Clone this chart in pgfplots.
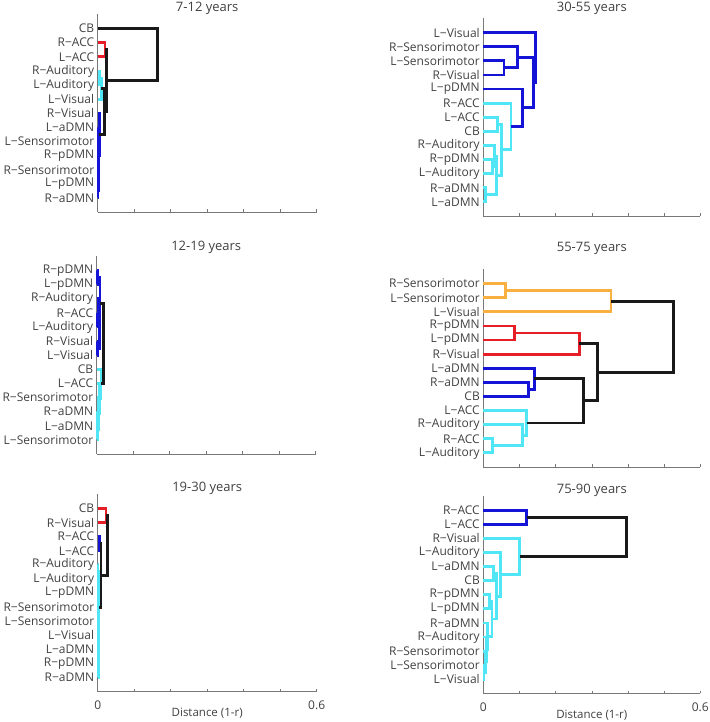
\documentclass[border=0pt]{standalone}
\usepackage{fontspec}
\setmainfont{Open Sans}
\usepackage{pgfplots}
\pgfplotsset{compat=1.18}
\definecolor{dcyan}{RGB}{80,230,245}
\definecolor{dblue}{RGB}{20,20,215}
\definecolor{dred}{RGB}{230,30,40}
\definecolor{dorange}{RGB}{250,175,65}
\definecolor{dblack}{RGB}{25,25,25}
\definecolor{axgray}{RGB}{120,120,120}
\definecolor{txtgray}{RGB}{65,65,65}
\pgfplotsset{
  dendro/.style={
    scale only axis, height=197.5pt, anchor=south west, clip=false,
    xmin=0, xmax=0.6, ymin=0, ymax=14,
    axis x line*=bottom, axis y line*=left,
    axis line style={axgray, line width=0.8pt, -},
    xtick={0,0.1,0.2,0.3,0.4,0.5,0.6}, xticklabels={},
    tick align=inside, major tick length=2.5pt,
    xtick style={axgray, line width=0.6pt},
    ytick style={draw=none},
    ytick={1,2,3,4,5,6,7,8,9,10,11,12,13},
    tick label style={font=\fontsize{12}{14}\selectfont, text=txtgray},
    title style={font=\fontsize{13}{15}\selectfont, text=txtgray, anchor=base, at={(axis description cs:0.5,1)}},
    every axis plot/.append style={line width=2.8pt, no markers, line join=miter},
  },
  bottomrow/.style={
    xticklabels={0,,,,,,0.6},
    xticklabel style={anchor=base, yshift=-18pt},
    xlabel={Distance (1-r)},
    xlabel style={at={(axis description cs:0.5,0)}, anchor=base, yshift=-24.8pt, font=\fontsize{11.5}{14}\selectfont, text=txtgray},
  }
}
\begin{document}
\begin{tikzpicture}
\useasboundingbox (0,0) rectangle (709pt,722pt);
% ---------------- 7-12 years
\begin{axis}[dendro, width=219pt, at={(97.7pt,510pt)}, title={7-12 years}, title style={yshift=-3pt},
  yticklabels={R−aDMN,L−pDMN,R−Sensorimotor,R−pDMN,L−Sensorimotor,L−aDMN,R−Visual,L−Visual,L−Auditory,R−Auditory,L−ACC,R−ACC,CB}]
\addplot[dblue] coordinates {(0,2) (0.001,2) (0.001,1) (0,1)};
\addplot[dblue] coordinates {(0,4) (0.001,4) (0.001,3) (0,3)};
\addplot[dblue] coordinates {(0.001,3.5) (0.002,3.5) (0.002,1.5) (0.001,1.5)};
\addplot[dblue] coordinates {(0,6) (0.002,6) (0.002,5) (0,5)};
\addplot[dblue] coordinates {(0.002,5.5) (0.003,5.5) (0.003,2.5) (0.002,2.5)};
\addplot[dblue] coordinates {(0,7) (0.004,7) (0.004,4) (0.003,4)};
\addplot[dcyan] coordinates {(0,10) (0.005,10) (0.005,9) (0,9)};
\addplot[dcyan] coordinates {(0.005,9.5) (0.010,9.5) (0.010,8) (0,8)};
\addplot[dred] coordinates {(0,12) (0.020,12) (0.020,11) (0,11)};
\addplot[dblack] coordinates {(0.010,8.75) (0.018,8.75) (0.018,5.5) (0.004,5.5)};
\addplot[dblack] coordinates {(0.020,11.5) (0.0246,11.5) (0.0246,7.125) (0.018,7.125)};
\addplot[dblack] coordinates {(0,13) (0.164,13) (0.164,9.31) (0.0246,9.31)};
\end{axis}
% ---------------- 30-55 years
\begin{axis}[dendro, width=217pt, at={(483.3pt,506pt)}, title={30-55 years}, title style={yshift=1pt},
  yticklabels={L−aDMN,R−aDMN,L−Auditory,R−pDMN,R−Auditory,CB,L−ACC,R−ACC,L−pDMN,R−Visual,L−Sensorimotor,R−Sensorimotor,L−Visual}]
\addplot[dcyan] coordinates {(0,2) (0.005,2) (0.005,1) (0,1)};
\addplot[dcyan] coordinates {(0,4) (0.025,4) (0.025,3) (0,3)};
\addplot[dcyan] coordinates {(0,5) (0.030,5) (0.030,3.5) (0.025,3.5)};
\addplot[dcyan] coordinates {(0.030,4.25) (0.037,4.25) (0.037,1.5) (0.005,1.5)};
\addplot[dcyan] coordinates {(0,7) (0.039,7) (0.039,6) (0,6)};
\addplot[dcyan] coordinates {(0.039,6.5) (0.051,6.5) (0.051,2.875) (0.037,2.875)};
\addplot[dcyan] coordinates {(0,8) (0.0765,8) (0.0765,4.69) (0.051,4.69)};
\addplot[dblue] coordinates {(0,9) (0.108,9) (0.108,6.34) (0.0765,6.34)};
\addplot[dblue] coordinates {(0,11) (0.057,11) (0.057,10) (0,10)};
\addplot[dblue] coordinates {(0,12) (0.095,12) (0.095,10.5) (0.057,10.5)};
\addplot[dblue] coordinates {(0.095,11.25) (0.138,11.25) (0.138,7.67) (0.108,7.67)};
\addplot[dblue] coordinates {(0,13) (0.145,13) (0.145,9.46) (0.138,9.46)};
\end{axis}
% ---------------- 12-19 years
\begin{axis}[dendro, width=219pt, at={(96.7pt,268pt)}, title={12-19 years}, title style={yshift=-0.3pt},
  yticklabels={L−Sensorimotor,L−aDMN,R−aDMN,R−Sensorimotor,L−ACC,CB,L−Visual,R−Visual,L−Auditory,R−ACC,R−Auditory,L−pDMN,R−pDMN}]
\addplot[dblue] coordinates {(0,13) (0.003,13) (0.003,12) (0,12)};
\addplot[dblue] coordinates {(0,10) (0.003,10) (0.003,9) (0,9)};
\addplot[dblue] coordinates {(0,11) (0.005,11) (0.005,9.5) (0.003,9.5)};
\addplot[dblue] coordinates {(0,8) (0.003,8) (0.003,7) (0,7)};
\addplot[dblue] coordinates {(0.005,10.25) (0.007,10.25) (0.007,7.5) (0.003,7.5)};
\addplot[dblue] coordinates {(0.003,12.5) (0.009,12.5) (0.009,8.875) (0.007,8.875)};
\addplot[dcyan] coordinates {(0,3) (0.002,3) (0.002,2) (0,2)};
\addplot[dcyan] coordinates {(0.002,2.5) (0.003,2.5) (0.003,1) (0,1)};
\addplot[dcyan] coordinates {(0,4) (0.004,4) (0.004,1.75) (0.003,1.75)};
\addplot[dcyan] coordinates {(0,5) (0.007,5) (0.007,2.875) (0.004,2.875)};
\addplot[dcyan] coordinates {(0,6) (0.012,6) (0.012,3.94) (0.007,3.94)};
\addplot[dblack] coordinates {(0.009,10.69) (0.018,10.69) (0.018,4.97) (0.012,4.97)};
\end{axis}
% ---------------- 55-75 years
\begin{axis}[dendro, width=217pt, at={(483.3pt,255pt)}, title={55-75 years}, title style={yshift=12.2pt},
  yticklabels={L−Auditory,R−ACC,R−Auditory,L−ACC,CB,R−aDMN,L−aDMN,R−Visual,L−pDMN,R−pDMN,L−Visual,L−Sensorimotor,R−Sensorimotor}]
\addplot[dorange] coordinates {(0,13) (0.0617,13) (0.0617,12) (0,12)};
\addplot[dorange] coordinates {(0.0617,12.5) (0.353,12.5) (0.353,11) (0,11)};
\addplot[dred] coordinates {(0,10) (0.0856,10) (0.0856,9) (0,9)};
\addplot[dred] coordinates {(0.0856,9.5) (0.265,9.5) (0.265,8) (0,8)};
\addplot[dblue] coordinates {(0,6) (0.124,6) (0.124,5) (0,5)};
\addplot[dblue] coordinates {(0,7) (0.141,7) (0.141,5.5) (0.124,5.5)};
\addplot[dcyan] coordinates {(0,2) (0.026,2) (0.026,1) (0,1)};
\addplot[dcyan] coordinates {(0,3) (0.108,3) (0.108,1.5) (0.026,1.5)};
\addplot[dcyan] coordinates {(0,4) (0.120,4) (0.120,2.25) (0.108,2.25)};
\addplot[dblack] coordinates {(0.141,6.25) (0.278,6.25) (0.278,3.125) (0.120,3.125)};
\addplot[dblack] coordinates {(0.265,8.75) (0.315,8.75) (0.315,4.69) (0.278,4.69)};
\addplot[dblack] coordinates {(0.353,11.75) (0.525,11.75) (0.525,6.72) (0.315,6.72)};
\end{axis}
% ---------------- 19-30 years
\begin{axis}[dendro, bottomrow, width=219pt, at={(97.7pt,30.2pt)}, title={19-30 years}, title style={yshift=-3.4pt},
  yticklabels={R−aDMN,R−pDMN,L−aDMN,L−Visual,L−Sensorimotor,R−Sensorimotor,L−pDMN,L−Auditory,R−Auditory,L−ACC,R−ACC,R−Visual,CB}]
\addplot[dcyan] coordinates {(0,3) (0.001,3) (0.001,2) (0,2)};
\addplot[dcyan] coordinates {(0.001,2.5) (0.0015,2.5) (0.0015,1) (0,1)};
\addplot[dcyan] coordinates {(0,4) (0.002,4) (0.002,1.75) (0.0015,1.75)};
\addplot[dcyan] coordinates {(0,6) (0.001,6) (0.001,5) (0,5)};
\addplot[dcyan] coordinates {(0.001,5.5) (0.0025,5.5) (0.0025,2.875) (0.002,2.875)};
\addplot[dcyan] coordinates {(0,9) (0.001,9) (0.001,8) (0,8)};
\addplot[dcyan] coordinates {(0.001,8.5) (0.002,8.5) (0.002,7) (0,7)};
\addplot[dcyan] coordinates {(0.002,7.75) (0.003,7.75) (0.003,4.19) (0.0025,4.19)};
\addplot[dblue] coordinates {(0,11) (0.005,11) (0.005,10) (0,10)};
\addplot[dred] coordinates {(0,13) (0.023,13) (0.023,12) (0,12)};
\addplot[dblack] coordinates {(0.005,10.5) (0.009,10.5) (0.009,5.97) (0.003,5.97)};
\addplot[dblack] coordinates {(0.023,12.5) (0.027,12.5) (0.027,8.235) (0.009,8.235)};
\end{axis}
% ---------------- 75-90 years
\begin{axis}[dendro, bottomrow, width=217pt, at={(483.3pt,28.5pt)}, title={75-90 years}, title style={yshift=-3.6pt},
  yticklabels={L−Visual,L−Sensorimotor,R−Sensorimotor,R−Auditory,R−aDMN,L−pDMN,R−pDMN,CB,L−aDMN,L−Auditory,R−Visual,L−ACC,R−ACC}]
\addplot[dcyan] coordinates {(0,2) (0.002,2) (0.002,1) (0,1)};
\addplot[dcyan] coordinates {(0,3) (0.005,3) (0.005,1.5) (0.002,1.5)};
\addplot[dcyan] coordinates {(0,4) (0.008,4) (0.008,2.25) (0.005,2.25)};
\addplot[dcyan] coordinates {(0,5) (0.011,5) (0.011,3.125) (0.008,3.125)};
\addplot[dcyan] coordinates {(0,7) (0.018,7) (0.018,6) (0,6)};
\addplot[dcyan] coordinates {(0.018,6.5) (0.024,6.5) (0.024,4.06) (0.011,4.06)};
\addplot[dcyan] coordinates {(0,9) (0.028,9) (0.028,8) (0,8)};
\addplot[dcyan] coordinates {(0.028,8.5) (0.037,8.5) (0.037,5.28) (0.024,5.28)};
\addplot[dcyan] coordinates {(0,10) (0.048,10) (0.048,6.89) (0.037,6.89)};
\addplot[dcyan] coordinates {(0,11) (0.101,11) (0.101,8.45) (0.048,8.45)};
\addplot[dblue] coordinates {(0,13) (0.120,13) (0.120,12) (0,12)};
\addplot[dblack] coordinates {(0.120,12.5) (0.396,12.5) (0.396,9.72) (0.101,9.72)};
\end{axis}
\end{tikzpicture}
\end{document}
